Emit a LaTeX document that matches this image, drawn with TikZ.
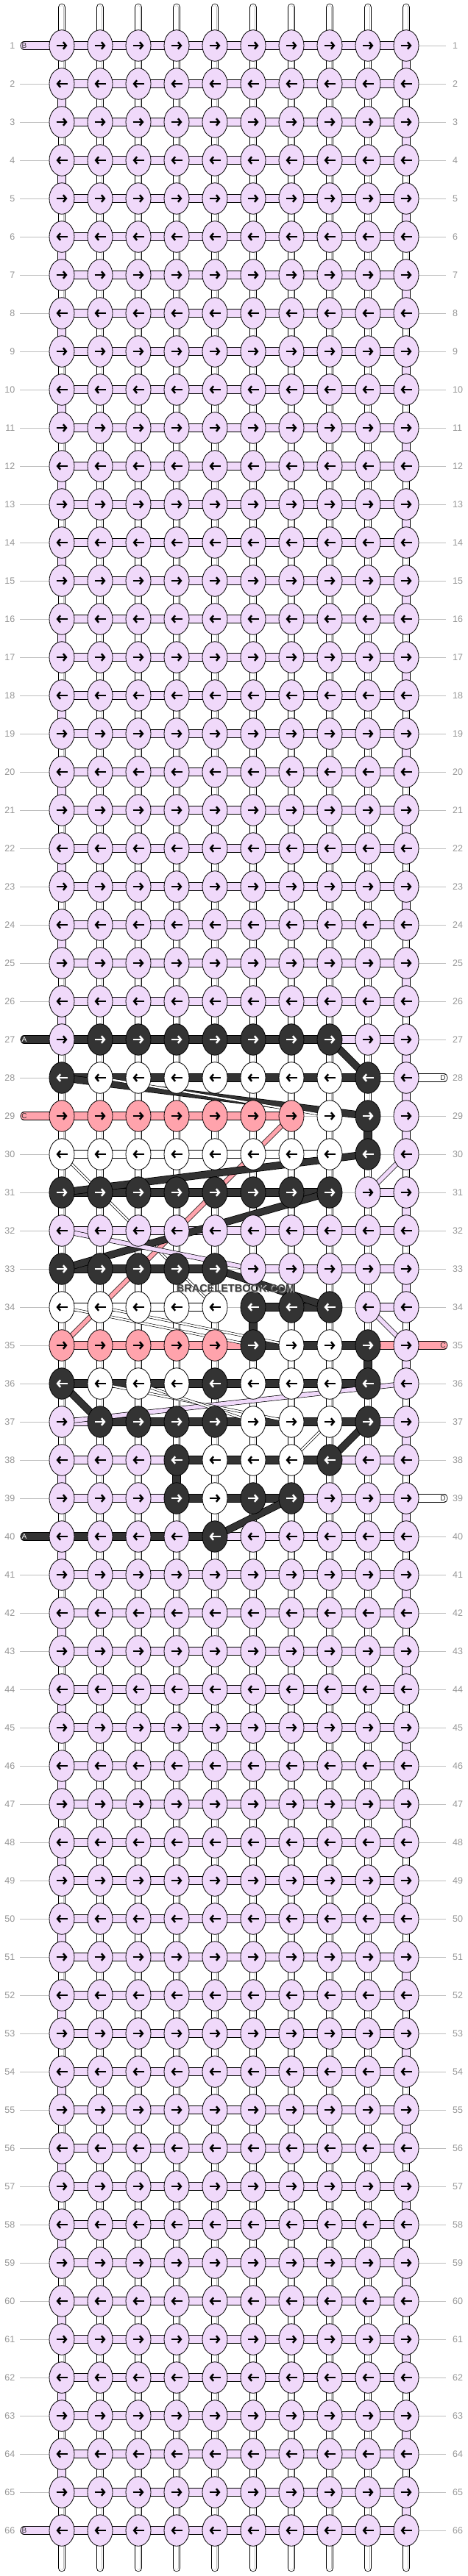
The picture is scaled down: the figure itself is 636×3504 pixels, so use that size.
\documentclass[tikz,border=0pt]{standalone}
\usepackage{fontspec}
\setmainfont{Liberation Sans}
\usetikzlibrary{shapes.geometric,arrows.meta}
\definecolor{cL}{RGB}{240,217,250}
\definecolor{cK}{RGB}{51,51,51}
\definecolor{cW}{RGB}{255,255,255}
\definecolor{cP}{RGB}{255,163,172}
\definecolor{guidegray}{RGB}{190,190,190}
\definecolor{numgray}{RGB}{150,150,150}
\tikzset{
  ac/.estore in=\arrc, ad/.estore in=\arrd, ac=black, ad=1,
  knot/.style={ellipse,draw=black,line width=.8pt,minimum width=34pt,minimum height=42.5pt,inner sep=0pt,
    path picture={\draw[line width=2.5pt,color=\arrc,-{Straight Barb[length=4pt,width=9.5pt]}]
      ([xshift=-7.5pt*\arrd]path picture bounding box.center) -- ([xshift=7.5pt*\arrd]path picture bounding box.center);}},
  kL/.style={knot,fill=cL,ac=black}, kK/.style={knot,fill=cK,ac=white},
  kW/.style={knot,fill=cW,ac=black}, kP/.style={knot,fill=cP,ac=black},
  bL/.style={draw=black,line width=.8pt,double=cL,double distance=9.6pt},
  bK/.style={draw=black,line width=.8pt,double=cK,double distance=9.6pt},
  bW/.style={draw=black,line width=.8pt,double=cW,double distance=9.6pt},
  bP/.style={draw=black,line width=.8pt,double=cP,double distance=9.6pt},
  bN/.style={draw=none},
  warp/.style={draw=black,line width=.8pt,double=white,double distance=8.8pt,
    postaction={draw=guidegray,line width=.5pt,double=white,double distance=4pt}},
  dthick/.style={draw=black,line width=.8pt,double=#1,double distance=8.5pt},
  dmed/.style={draw=black,line width=.7pt,double=#1,double distance=5.5pt},
  dthin/.style={draw=black,line width=.6pt,double=#1,double distance=2.4pt},
  guide/.style={draw=guidegray,line width=.8pt},
  rownum/.style={font=\fontsize{12.5}{13}\selectfont,text=numgray,inner sep=0pt},
  stublab/.style={font=\fontsize{10}{10}\selectfont,inner sep=0pt}
}
\begin{document}
\begin{tikzpicture}[x=1pt,y=-1pt]
\useasboundingbox (0,0) rectangle (636,3504);
\def\midrows{27/{L,K,K,K,K,K,K,K,L,L}/{K,K,K,K,K,K,K,L,L},
28/{K,W,W,W,W,W,W,W,K,L}/{K,K,K,K,K,K,K,K,W},
29/{P,P,P,P,P,P,P,W,K,L}/{P,P,P,P,P,P,N,N,N},
30/{W,W,W,W,W,W,W,W,K,L}/{W,W,W,W,W,W,W,N,N},
31/{K,K,K,K,K,K,K,K,L,L}/{K,K,K,K,K,K,K,N,L},
32/{L,L,L,L,L,L,L,L,L,L}/{L,L,L,L,L,L,L,L,L},
33/{K,K,K,K,K,L,L,L,L,L}/{K,K,K,K,N,L,L,L,L},
34/{W,W,W,W,W,K,K,K,L,L}/{W,W,W,W,N,K,K,N,L},
35/{P,P,P,P,P,K,W,W,K,L}/{P,P,P,P,P,K,K,K,P},
36/{K,W,W,W,K,W,W,W,K,L}/{K,K,K,K,K,K,K,K,N},
37/{L,K,K,K,K,W,W,W,K,L}/{L,K,K,K,K,K,K,K,L},
38/{L,L,L,K,W,W,W,K,L,L}/{L,L,L,K,K,K,K,L,L},
39/{L,L,L,K,W,K,K,L,L,L}/{L,L,L,K,K,K,L,L,L},
40/{L,L,L,L,K,L,L,L,L,L}/{K,K,K,K,L,L,L,L,L}}
% knot grid
\foreach \row in {1,...,66}
  \foreach \col in {1,...,10}
    \coordinate (p-\row-\col) at ({84+52*(\col-1)},{62+52*(\row-1)});
% row guides and numbers
\foreach \row in {1,...,66}{
  \path (27,{62+52*(\row-1)}) coordinate (gl-\row) (606,{62+52*(\row-1)}) coordinate (gr-\row);
  \draw[guide] (gl-\row) -- (gr-\row);
  \node[rownum,anchor=east] (nl-\row) at (20.5,{62+52*(\row-1)}) {\row};
  \node[rownum,anchor=west] (nr-\row) at (615,{62+52*(\row-1)}) {\row};
}
% warp strings
\foreach \col in {1,...,10}{
  \path ({84+52*(\col-1)},10) coordinate (wt-\col) ({84+52*(\col-1)},3493) coordinate (wb-\col);
  \draw[warp,line cap=round] (wt-\col) -- (p-1-\col);
  \draw[warp,line cap=round] (p-66-\col) -- (wb-\col);
  \foreach \row in {1,...,65}{
    \pgfmathtruncatemacro\nx{\row+1}
    \draw[warp] (p-\row-\col) -- (p-\nx-\col);
  }
}
% working string turning down at the edges
\foreach \ra/\rb in {1/26,40/65}
  \foreach \row in {\ra,...,\rb}{
    \pgfmathtruncatemacro\nx{\row+1}
    \ifodd\row\relax \draw[bL] (p-\row-10) -- (p-\nx-10); \else \draw[bL] (p-\row-1) -- (p-\nx-1); \fi
  }
\foreach \row/\col/\kc in {27/10/L,28/10/L,29/10/L,29/9/K,31/10/L,33/10/L,34/6/K,35/9/K,35/10/L,37/10/L,38/1/L,38/4/K,39/10/L}{
  \pgfmathtruncatemacro\nx{\row+1}
  \draw[b\kc] (p-\row-\col) -- (p-\nx-\col);
}
% horizontal bands
\foreach \ra/\rb in {1/26,41/66}
  \foreach \row in {\ra,...,\rb}
    \foreach \col in {1,...,9}{
      \pgfmathtruncatemacro\nx{\col+1}
      \draw[bL] (p-\row-\col) -- (p-\row-\nx);
    }
\foreach \row/\kl/\bl in \midrows
  \foreach \bc [count=\col] in \bl{
    \pgfmathtruncatemacro\nx{\col+1}
    \path[b\bc] (p-\row-\col) -- (p-\row-\nx);
  }
% string ends
\foreach \row/\bc/\lt/\tc in {1/L/B/cK,27/K/A/white,29/P/C/cK,40/K/A/white,66/L/B/cK}{
  \coordinate (sl-\row) at (33,{62+52*(\row-1)});
  \draw[b\bc,line cap=round] (sl-\row) -- (p-\row-1);
  \node[stublab,text=\tc] (tl-\row) at (sl-\row) {\lt};
}
\foreach \row/\bc/\lt in {28/W/D,35/P/C,39/W/D}{
  \coordinate (sr-\row) at (603,{62+52*(\row-1)});
  \draw[b\bc,line cap=round] (p-\row-10) -- (sr-\row);
  \node[stublab,text=cK] (tr-\row) at ([xshift=-1]sr-\row) {\lt};
}
% floating strings
\foreach \wd/\cc/\ra/\ca/\rb/\cb in {thick/cK/27/8/28/9,thick/cK/28/1/29/9,thin/white/28/2/29/8,
  med/cP/29/7/35/1,thick/cK/31/1/30/9,thin/white/30/1/34/5,med/cL/30/10/31/9,thick/cK/33/1/31/8,
  med/cL/32/1/33/6,thick/cK/33/5/34/8,med/cL/34/9/35/10,thin/white/34/1/35/6,thin/white/34/2/35/7,
  med/cL/36/10/37/1,thick/cK/36/1/37/2,thin/white/36/2/37/7,thin/white/36/3/37/6,
  thick/cK/37/9/38/8,thin/white/37/8/38/7,thick/cK/39/7/40/5}
  \draw[d\wd=\cc] (p-\ra-\ca) -- (p-\rb-\cb);
% knots
\foreach \ra/\rb in {1/26,41/66}
  \foreach \row in {\ra,...,\rb}{
    \pgfmathtruncatemacro\dir{ifthenelse(mod(\row,2)==1,1,-1)}
    \foreach \col in {1,...,10}
      \node[kL,ad=\dir] (k-\row-\col) at (p-\row-\col) {};
  }
\foreach \row/\kl/\bl in \midrows{
  \pgfmathtruncatemacro\dir{ifthenelse(mod(\row,2)==1,1,-1)}
  \foreach \kc [count=\col] in \kl
    \node[k\kc,ad=\dir] (k-\row-\col) at (p-\row-\col) {};
}
\node[font=\bfseries\fontsize{14.5}{15}\selectfont,text=gray!45] (wms) at (321,1753) {BRACELETBOOK.COM};
\node[font=\bfseries\fontsize{14.5}{15}\selectfont,text=cK!95] (wm) at (320,1752) {BRACELETBOOK.COM};
\end{tikzpicture}
\end{document}
